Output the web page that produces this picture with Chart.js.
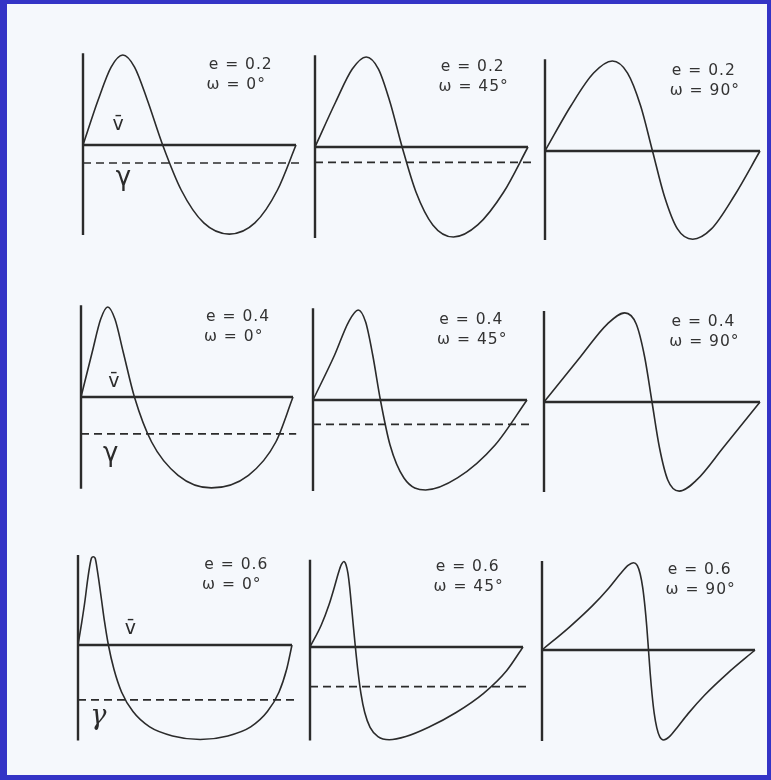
<!DOCTYPE html>
<html>
<head>
<meta charset="utf-8">
<script src="https://cdn.jsdelivr.net/npm/chart.js@4.4.1/dist/chart.umd.min.js"></script>
<style>
  html, body { margin: 0; padding: 0; }
  body { width: 771px; height: 780px; background: #3434c6; position: relative; overflow: hidden; }
  #sheet { position: absolute; left: 7px; top: 4px; width: 760px; height: 771px; background: #f5f8fc; }
  canvas { position: absolute; }
</style>
</head>
<body>
<div id="sheet"></div>
<script>
// Radial-velocity curves over one period for three eccentricities and three
// longitudes of periastron. Velocities are in units of the semi-amplitude K,
// measured from the mean level v̄; phase runs from 0 to 1.
const eccentricities = [0.2, 0.4, 0.6];
const omegas = [0, 45, 90];

// e = 0.2
const phaseE2W0  = [0, 0.071, 0.132, 0.187, 0.242, 0.302, 0.374, 0.461, 0.567, 0.687, 0.807, 0.913, 1];
const velE2W0    = [0, 0.5, 0.866, 1, 0.866, 0.5, 0, -0.5, -0.866, -0.99, -0.866, -0.5, 0];
const phaseE2W45 = [0, 0.097, 0.175, 0.240, 0.298, 0.352, 0.409, 0.474, 0.553, 0.650, 0.764, 0.886, 1];
const velE2W45   = [0, 0.5, 0.866, 1, 0.866, 0.5, 0, -0.5, -0.866, -1, -0.866, -0.5, 0];
const phaseE2W90 = [0, 0.120, 0.226, 0.313, 0.384, 0.445, 0.5, 0.555, 0.616, 0.687, 0.774, 0.880, 1];
const velE2W90   = [0, 0.5, 0.866, 1, 0.866, 0.5, 0, -0.5, -0.866, -0.98, -0.866, -0.5, 0];

// e = 0.4
const phaseE4W0  = [0, 0.053, 0.093, 0.126, 0.160, 0.199, 0.252, 0.333, 0.458, 0.615, 0.790, 0.919, 1];
const velE4W0    = [0, 0.5, 0.866, 1, 0.866, 0.5, 0, -0.5, -0.87, -1.01, -0.87, -0.5, 0];
const phaseE4W45 = [0, 0.101, 0.166, 0.211, 0.246, 0.279, 0.315, 0.360, 0.425, 0.526, 0.675, 0.851, 1];
const velE4W45   = [0, 0.5, 0.866, 1, 0.866, 0.5, 0, -0.5, -0.866, -1, -0.866, -0.5, 0];
const phaseE4W90 = [0, 0.168, 0.293, 0.374, 0.427, 0.466, 0.5, 0.534, 0.573, 0.626, 0.707, 0.832, 1];
const velE4W90   = [0, 0.5, 0.866, 0.99, 0.866, 0.5, 0, -0.5, -0.866, -0.99, -0.866, -0.5, 0];

// e = 0.6
const phaseE6W0  = [0, 0.018, 0.033, 0.044, 0.054, 0.063, 0.071, 0.080, 0.088, 0.098, 0.110, 0.124, 0.142,
                    0.168, 0.204, 0.257, 0.335, 0.442, 0.571, 0.700, 0.807, 0.885, 0.939, 0.975, 1];
const velE6W0    = [0, 0.259, 0.5, 0.707, 0.866, 0.966, 0.98, 0.966, 0.866, 0.707, 0.5, 0.259, 0,
                    -0.27, -0.525, -0.74, -0.91, -1.01, -1.05, -1.01, -0.91, -0.74, -0.525, -0.27, 0];
const phaseE6W45 = [0, 0.053, 0.090, 0.115, 0.133, 0.147, 0.159, 0.169, 0.178, 0.186, 0.194, 0.203, 0.213,
                    0.225, 0.239, 0.257, 0.282, 0.319, 0.372, 0.450, 0.557, 0.686, 0.815, 0.922, 1];
const velE6W45   = [0, 0.245, 0.475, 0.67, 0.82, 0.915, 0.95, 0.915, 0.82, 0.67, 0.475, 0.245, 0,
                    -0.267, -0.515, -0.728, -0.892, -0.995, -1.03, -0.995, -0.892, -0.728, -0.515, -0.267, 0];
const phaseE6W90 = [0, 0.129, 0.236, 0.314, 0.367, 0.404, 0.429, 0.447, 0.461, 0.473, 0.483, 0.492, 0.5,
                    0.508, 0.517, 0.527, 0.539, 0.553, 0.571, 0.597, 0.633, 0.686, 0.764, 0.871, 1];
const velE6W90   = [0, 0.255, 0.49, 0.69, 0.845, 0.94, 0.97, 0.94, 0.845, 0.69, 0.49, 0.255, 0,
                    -0.259, -0.5, -0.707, -0.866, -0.966, -1, -0.966, -0.866, -0.707, -0.5, -0.259, 0];

// Systemic velocity γ relative to v̄ (no separate line where the two coincide)
const gammaOffsets = [-0.20, -0.17, null, -0.41, -0.27, null, -0.61, -0.44, null];

const curves = [
  [phaseE2W0, velE2W0], [phaseE2W45, velE2W45], [phaseE2W90, velE2W90],
  [phaseE4W0, velE4W0], [phaseE4W45, velE4W45], [phaseE4W90, velE4W90],
  [phaseE6W0, velE6W0], [phaseE6W45, velE6W45], [phaseE6W90, velE6W90]
];

// Page placement of each panel: axis x, v̄ line y, end of period x
const frames = [
  { ax: 83,  ly: 145, ex: 296 }, { ax: 315, ly: 147, ex: 528 }, { ax: 545, ly: 151, ex: 760 },
  { ax: 81,  ly: 397, ex: 293 }, { ax: 313, ly: 400, ex: 527 }, { ax: 544, ly: 402, ex: 760 },
  { ax: 78,  ly: 645, ex: 292 }, { ax: 310, ly: 647, ex: 523 }, { ax: 542, ly: 650, ex: 755 }
];
const PX_PER_K = 90;
const PAD_L = 22, PAD_R = 14, PAD_T = 112, PAD_B = 102;

// Where the v̄ and γ symbols sit in the ω = 0° panels (phase, velocity)
const symbolSpots = {
  0: { vbar: [0.165, 0.22], gamma: [0.19, -0.37], gammaFont: '26px "DejaVu Sans"' },
  3: { vbar: [0.155, 0.17], gamma: [0.14, -0.64], gammaFont: '26px "DejaVu Sans"' },
  6: { vbar: [0.245, 0.18], gamma: [0.095, -0.80], gammaFont: 'italic 27px "DejaVu Serif"' }
};

const INK = '#2b2b2b';

const labelPlugin = {
  id: 'panelLabels',
  afterDatasetsDraw(chart, args, opts) {
    const { ctx, scales: { x, y } } = chart;
    ctx.save();
    ctx.fillStyle = '#333333';
    ctx.textBaseline = 'middle';
    ctx.textAlign = 'left';
    ctx.font = '15.5px "DejaVu Sans"';
    ctx.letterSpacing = '1px';
    ctx.fillText(opts.eText, x.getPixelForValue(0.59), y.getPixelForValue(0.885));
    ctx.fillText(opts.wText, x.getPixelForValue(0.58), y.getPixelForValue(0.665));
    ctx.letterSpacing = '0px';
    const s = opts.spots;
    if (s) {
      ctx.textAlign = 'center';
      ctx.fillStyle = '#2b2b2b';
      ctx.font = '19px "DejaVu Sans"';
      ctx.fillText('v\u0304', x.getPixelForValue(s.vbar[0]), y.getPixelForValue(s.vbar[1]));
      ctx.font = s.gammaFont;
      ctx.fillText('\u03B3', x.getPixelForValue(s.gamma[0]), y.getPixelForValue(s.gamma[1]));
    }
    ctx.restore();
  }
};

frames.forEach((f, i) => {
  const W = f.ex - f.ax;
  const canvas = document.createElement('canvas');
  canvas.width = W + PAD_L + PAD_R;
  canvas.height = PAD_T + PAD_B;
  canvas.style.left = (f.ax - PAD_L) + 'px';
  canvas.style.top = (f.ly - PAD_T) + 'px';
  document.body.appendChild(canvas);

  const [xs, ys] = curves[i];
  const yTop = Math.max(...ys), yBot = Math.min(...ys);
  const e = eccentricities[Math.floor(i / 3)];
  const w = omegas[i % 3];

  const datasets = [
    { // vertical axis
      data: [{ x: 0, y: yTop + 0.02 }, { x: 0, y: yBot - 0.01 }],
      borderColor: INK, borderWidth: 2.4, pointRadius: 0
    },
    { // mean level v̄
      data: [{ x: 0, y: 0 }, { x: 1, y: 0 }],
      borderColor: INK, borderWidth: 2.6, pointRadius: 0
    },
    { // velocity curve
      data: xs.map((p, k) => ({ x: p, y: ys[k] })),
      borderColor: INK, borderWidth: 1.6, pointRadius: 0,
      cubicInterpolationMode: 'monotone'
    }
  ];
  if (gammaOffsets[i] !== null) {
    datasets.push({ // systemic velocity γ
      data: [{ x: 0, y: gammaOffsets[i] }, { x: 1.015, y: gammaOffsets[i] }],
      borderColor: INK, borderWidth: 1.7, borderDash: [8, 5], pointRadius: 0
    });
  }

  new Chart(canvas, {
    type: 'line',
    data: { datasets },
    options: {
      responsive: false,
      animation: false,
      events: [],
      layout: { padding: 0 },
      plugins: {
        legend: { display: false },
        tooltip: { enabled: false },
        panelLabels: {
          eText: 'e = ' + e.toFixed(1),
          wText: '\u03C9 = ' + w + '\u00B0',
          spots: symbolSpots[i]
        }
      },
      scales: {
        x: { type: 'linear', display: false, min: -PAD_L / W, max: 1 + PAD_R / W },
        y: { type: 'linear', display: false, min: -PAD_B / PX_PER_K, max: PAD_T / PX_PER_K }
      }
    },
    plugins: [labelPlugin]
  });
});
</script>
</body>
</html>
